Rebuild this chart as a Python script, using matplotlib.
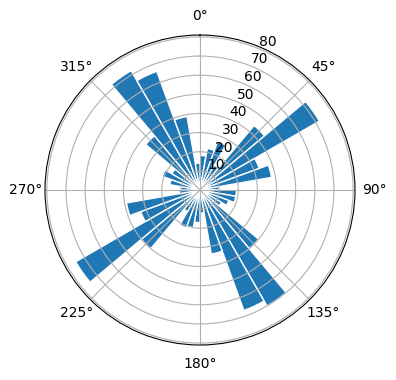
import numpy as np
import matplotlib
matplotlib.use("Agg")
import matplotlib.pyplot as plt

# direction bins, 10 degrees each, clockwise from north
bin_start_deg = np.arange(0, 360, 10)
counts = [18, 22, 27, 15, 44, 72, 33, 38, 10,
          19, 19, 16, 13, 40, 70, 67, 34, 12,
          17, 20, 21, 13, 40, 75, 33, 39, 11,
          10, 16, 21, 17, 37, 72, 66, 39, 14]

fig = plt.figure(figsize=(3.96, 3.80), dpi=100)
ax = fig.add_axes([45 / 396, 35 / 380, 310 / 396, 310 / 380], projection="polar")
ax.set_theta_zero_location("N")
ax.set_theta_direction(-1)

ax.bar(np.deg2rad(bin_start_deg), counts, width=np.deg2rad(10), align="edge",
       color="#1f77b4", edgecolor="white", linewidth=1)
ax.set_ylim(0, 81)
ax.set_yticks(np.arange(10, 81, 10))

fig.savefig("out.png", dpi=100)
